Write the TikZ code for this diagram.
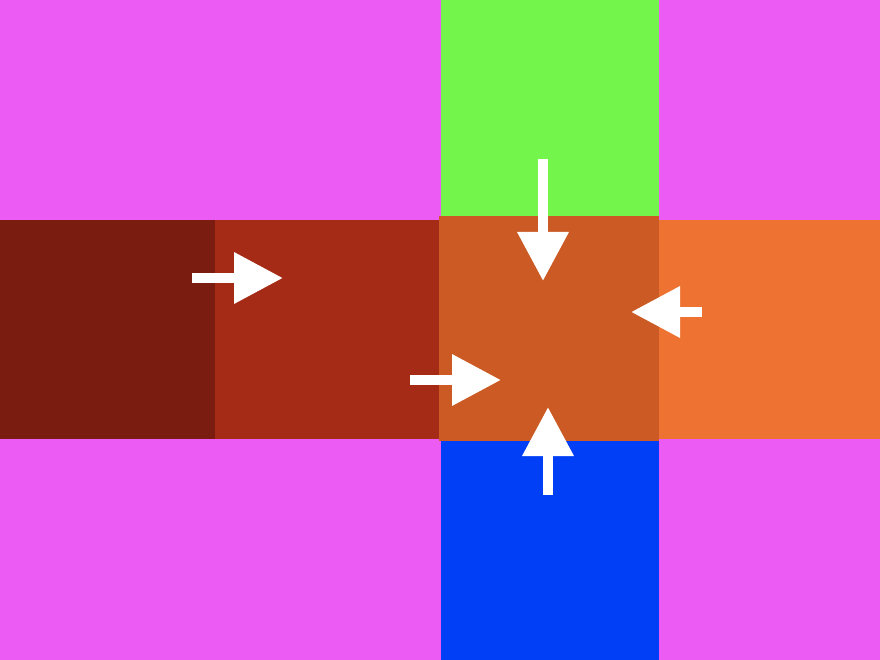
\documentclass[tikz,border=0pt]{standalone}
\usetikzlibrary{arrows.meta}
\definecolor{bgmag}{HTML}{EC5CF5}
\definecolor{cgreen}{HTML}{73F54B}
\definecolor{cdred}{HTML}{7B1C10}
\definecolor{cred}{HTML}{A62B17}
\definecolor{ccenter}{HTML}{CB5A24}
\definecolor{corange}{HTML}{EE7231}
\definecolor{cblue}{HTML}{003FF5}
\tikzset{
  tile/.style={draw=none,inner sep=0pt,outer sep=0pt,anchor=north west},
  flow/.style={draw=white,line width=10pt,-{Triangle[width=49pt,length=49pt]}}
}
\begin{document}
\begin{tikzpicture}[x=1pt,y=-1pt]
\useasboundingbox (0,0) rectangle (880,660);
\fill[bgmag] (0,0) rectangle (880,660);
\node[tile,fill=cgreen,minimum width=218pt,minimum height=216pt] (green) at (441,0) {};
\node[tile,fill=cdred,minimum width=215pt,minimum height=219pt] (dred) at (0,220) {};
\node[tile,fill=cred,minimum width=224pt,minimum height=219pt] (red) at (215,220) {};
\node[tile,fill=corange,minimum width=221pt,minimum height=219pt] (orange) at (659,220) {};
\node[tile,fill=cblue,minimum width=218pt,minimum height=219pt] (blue) at (441,441) {};
\node[tile,fill=ccenter,minimum width=220pt,minimum height=225pt] (center) at (439,216) {};
\coordinate (a1s) at (543,159);
\coordinate (a1e) at (543,281);
\coordinate (a2s) at (702,312);
\coordinate (a2e) at (631,312);
\coordinate (a3s) at (410,380);
\coordinate (a3e) at (501,380);
\coordinate (a4s) at (548,495);
\coordinate (a4e) at (548,407);
\coordinate (a5s) at (192,278);
\coordinate (a5e) at (283,278);
\draw[flow] (a1s) -- (a1e);
\draw[flow] (a2s) -- (a2e);
\draw[flow] (a3s) -- (a3e);
\draw[flow] (a4s) -- (a4e);
\draw[flow] (a5s) -- (a5e);
\end{tikzpicture}
\end{document}
